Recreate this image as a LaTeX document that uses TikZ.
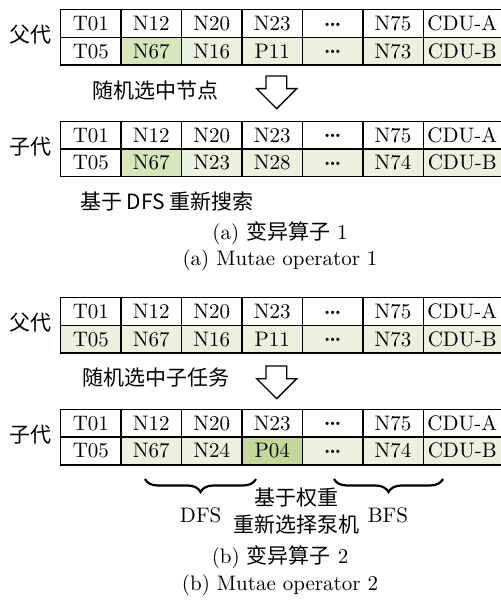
\documentclass[tikz,border=0pt]{standalone}
\usepackage{fontspec}
\newfontfamily\cjk{Noto Sans CJK SC}
\usetikzlibrary{decorations.pathreplacing}
\definecolor{lg}{HTML}{EBF1DE}
\definecolor{mg}{HTML}{D7E4BC}
\definecolor{dg}{HTML}{C4D79B}
\newcommand\dd{\raisebox{2.2pt}{\bfseries .\kern-0.7pt.\kern-0.7pt.}}
\newcommand\trow[3]{%
  \foreach \f/\t [count=\i] in {#3} {%
    \ifnum\i=7 \def\ww{39pt}\else\def\ww{30.21pt}\fi
    \pgfmathsetmacro\xx{60+(\i-1)*60.42}
    \node[cell, fill=\f, minimum width=\ww] (#1c\i) at (\xx,#2) {\t};
  }}
\begin{document}
\begin{tikzpicture}[x=0.5pt,y=-0.5pt,
  font=\fontsize{10.5}{12.6}\selectfont,
  cell/.style={draw, line width=0.7pt, inner sep=0pt, anchor=north west,
    minimum height=13.85pt, text height=7pt, text depth=0pt},
  lbl/.style={inner sep=0pt, font=\fontsize{10.5}{12.6}\selectfont\cjk},
  txt/.style={inner sep=0pt},
  hollow/.style={draw, line width=0.7pt, fill=white, line join=miter},
  brc/.style={draw, line width=1.1pt, decorate, decoration={brace, mirror, amplitude=6.5pt}}]
\useasboundingbox (0,0) rectangle (501,604);

% ---- (a) ----
\trow{pa}{9}{white/T01,white/N12,white/N20,white/N23,white/\dd,white/N75,white/CDU-A}
\trow{pb}{36.7}{white/T05,mg/N67,lg/N16,lg/P11,lg/\dd,lg/N73,lg/CDU-B}
\trow{ca}{120.7}{white/T01,white/N12,white/N20,white/N23,white/\dd,white/N75,white/CDU-A}
\trow{cb}{148.4}{white/T05,mg/N67,lg/N23,lg/N28,lg/\dd,lg/N74,lg/CDU-B}
\node[lbl] (fa) at (31,35) {父代};
\node[lbl] (za) at (31,147) {子代};
\node[lbl] (sa) at (155,91) {随机选中节点};
\draw[hollow] (266,76) -- (286.7,76) -- (286.7,88.7) -- (296.7,88.7) -- (276.7,108.7) -- (256.7,88.7) -- (266,88.7) -- cycle;
\node[lbl] (da) at (167,201) {基于 DFS 重新搜索};
\node[txt] (capa1) at (280,233) {(a) {\cjk 变异算子} 1};
\node[txt] (capa2) at (280,260) {(a) Mutae operator 1};

% ---- (b) ----
\trow{qa}{297}{white/T01,white/N12,white/N20,white/N23,white/\dd,white/N75,white/CDU-A}
\trow{qb}{324.7}{lg/T05,lg/N67,lg/N16,lg/P11,lg/\dd,lg/N73,lg/CDU-B}
\trow{da}{408.7}{white/T01,white/N12,white/N20,white/N23,white/\dd,white/N75,white/CDU-A}
\trow{db}{436.4}{white/T05,lg/N67,lg/N24,dg/P04,lg/\dd,lg/N74,lg/CDU-B}
\node[lbl] (fb) at (31,323) {父代};
\node[lbl] (zb) at (31,435) {子代};
\node[lbl] (sb) at (156,378) {随机选中子任务};
\draw[hollow] (266,366) -- (286.7,366) -- (286.7,378.7) -- (296.7,378.7) -- (276.7,398.7) -- (256.7,378.7) -- (266,378.7) -- cycle;
\coordinate (b1l) at (145,479);
\coordinate (b1r) at (256,479);
\coordinate (b2l) at (334,479);
\coordinate (b2r) at (443,479);
\draw[brc] (b1l) -- (b1r);
\draw[brc] (b2l) -- (b2r);
\node[txt] (dfs) at (200.7,515) {DFS};
\node[txt] (bfs) at (388,515) {BFS};
\node[lbl] (w1) at (296.7,498) {基于权重};
\node[lbl] (w2) at (296.7,524) {重新选择泵机};
\node[txt] (capb1) at (280,557) {(b) {\cjk 变异算子} 2};
\node[txt] (capb2) at (280,585) {(b) Mutae operator 2};
\end{tikzpicture}
\end{document}
